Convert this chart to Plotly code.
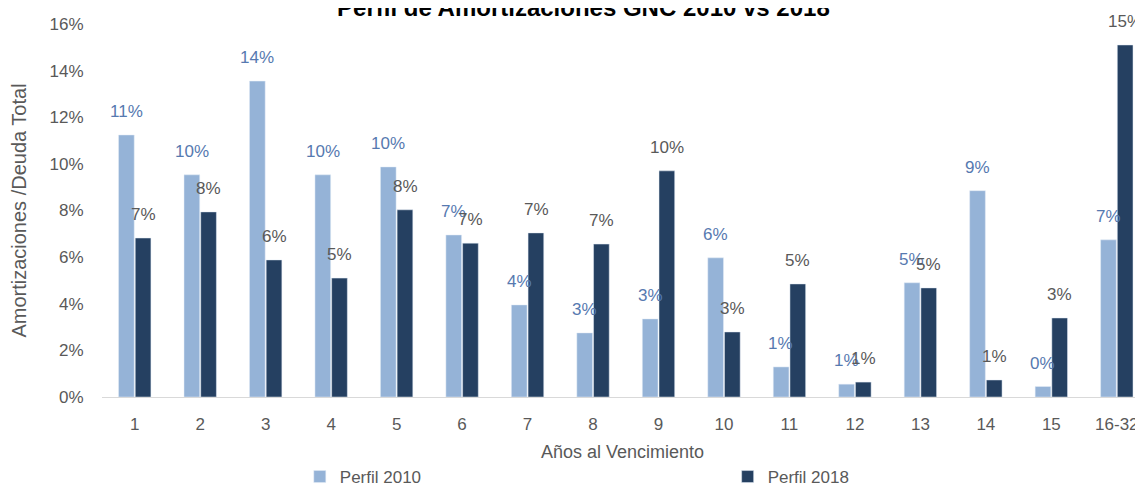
import plotly.graph_objects as go

# Años al vencimiento
categorias = ['1', '2', '3', '4', '5', '6', '7', '8', '9', '10',
              '11', '12', '13', '14', '15', '16-32']

# Amortizaciones / Deuda total (%)
perfil_2010 = [11.24, 9.53, 13.55, 9.53, 9.87, 6.95, 3.95, 2.75, 3.35, 5.97,
               1.29, 0.55, 4.90, 8.85, 0.45, 6.74]
perfil_2018 = [6.82, 7.94, 5.88, 5.10, 8.03, 6.60, 7.04, 6.56, 9.70, 2.79,
               4.85, 0.64, 4.68, 0.73, 3.39, 15.10]

ticks_y = [0, 2, 4, 6, 8, 10, 12, 14, 16]
ticks_y_txt = [f'{v}%' for v in ticks_y]

FONT = 'Liberation Sans, Arial, sans-serif'
GRIS = '#595959'
AZUL_TXT = '#5679b0'

fig = go.Figure()

fig.add_trace(go.Bar(
    name='Perfil 2010',
    x=categorias,
    y=perfil_2010,
    marker=dict(color='#95b3d7'),
    legend='legend',
))

fig.add_trace(go.Bar(
    name='Perfil 2018',
    x=categorias,
    y=perfil_2018,
    marker=dict(color='#254061'),
    legend='legend2',
))

# etiquetas de datos, un poco separadas de la barra como en Excel
# (x por indice: las categorias '1', '2'... se confunden con posiciones)
for serie, color, dx in [(perfil_2010, AZUL_TXT, -8.5), (perfil_2018, GRIS, 8.5)]:
    for i, v in enumerate(serie):
        fig.add_annotation(
            x=i, y=v, text=f'{round(v)}%',
            showarrow=False, yanchor='bottom',
            xshift=dx, yshift=12,
            font=dict(family=FONT, size=17, color=color),
        )

fig.update_xaxes(
    type='category',
    range=[-0.5, 15.4],
    automargin=False,
    showline=True,
    linecolor='#d9d9d9',
    linewidth=1,
    ticks='outside',
    ticklen=12,
    tickcolor='rgba(0,0,0,0)',
    tickangle=0,
    tickfont=dict(family=FONT, size=17, color=GRIS),
    title=dict(text='Años al Vencimiento', standoff=11,
               font=dict(family=FONT, size=18, color=GRIS)),
)

fig.update_yaxes(
    range=[0, 16],
    automargin=False,
    tickvals=ticks_y,
    ticktext=ticks_y_txt,
    ticks='outside',
    ticklen=14,
    tickcolor='rgba(0,0,0,0)',
    showgrid=False,
    zeroline=False,
    tickfont=dict(family=FONT, size=17, color=GRIS),
    title=dict(text='Amortizaciones /Deuda Total', standoff=20,
               font=dict(family=FONT, size=20, color=GRIS)),
)

legend_style = dict(
    orientation='h',
    y=-0.2145, yanchor='middle',
    xanchor='left',
    font=dict(family=FONT, size=17, color=GRIS),
)

fig.update_layout(
    width=1135,
    height=479,
    barmode='group',
    bargap=0.49,
    bargroupgap=0.06,
    plot_bgcolor='white',
    paper_bgcolor='white',
    margin=dict(l=94, r=0, t=16, b=90, autoexpand=False),
    title=dict(
        text='<b>Perfil de Amortizaciones GNC 2010 vs 2018</b>',
        x=0.507, xanchor='center',
        y=1.0, yanchor='middle', yref='container',
        pad=dict(t=0, b=0),
        font=dict(family=FONT, size=24, color='black'),
    ),
    legend=dict(x=0.190, **legend_style),
    legend2=dict(x=0.601, **legend_style),
    showlegend=True,
)

fig.write_html("out.html")
